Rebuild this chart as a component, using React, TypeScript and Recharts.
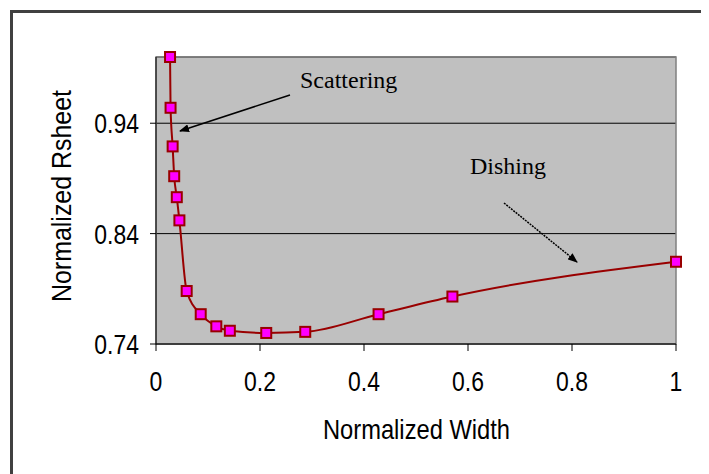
import React from 'react';
import { LineChart, Line, XAxis, YAxis, CartesianGrid, ReferenceArea } from 'recharts';

const widths = [0.027, 0.028, 0.032, 0.035, 0.04, 0.045, 0.059, 0.086, 0.116, 0.142, 0.212, 0.287, 0.428, 0.57, 1.0];
const rsheet = [1.0, 0.954, 0.919, 0.892, 0.873, 0.852, 0.788, 0.767, 0.756, 0.752, 0.75, 0.751, 0.767, 0.783, 0.8145];
const xTicks = [0, 0.2, 0.4, 0.6, 0.8, 1];
const yTicks = [0.74, 0.84, 0.94];

const data = widths.map((w, i) => ({ w, r: rsheet[i] }));

const SANS = '"Liberation Sans", Arial, sans-serif';
const SERIF = '"Liberation Serif", "Times New Roman", serif';

const SquareDot = (props: any) => {
  const { cx, cy, index } = props;
  if (cx == null || cy == null) return null;
  return <rect key={index} x={cx - 5} y={cy - 5} width={10} height={10} fill="#FF00FF" stroke="#990000" strokeWidth={2} />;
};

// Excel-ish narrow labels: squeeze Arial horizontally
const XTick = (props: any) => {
  const { x, y, payload } = props;
  return (
    <text transform={`translate(${x}, ${y}) scale(0.82, 1)`} textAnchor="middle" dy="0.71em" fontSize={28} fontFamily={SANS} fill="#000">
      {String(payload.value)}
    </text>
  );
};

const YTick = (props: any) => {
  const { x, y, payload } = props;
  return (
    <text transform={`translate(${x}, ${y}) scale(0.82, 1)`} textAnchor="end" dy="0.36em" fontSize={28} fontFamily={SANS} fill="#000">
      {Number(payload.value).toFixed(2)}
    </text>
  );
};

const XTitle = (props: any) => {
  const vb = props.viewBox;
  return (
    <text x={vb.x + vb.width / 2 - 93} y={431} textLength={187} lengthAdjust="spacingAndGlyphs" fontSize={28} fontFamily={SANS} fill="#000">
      Normalized Width
    </text>
  );
};

const YTitle = () => {
  const cx = 63;
  const cy = 188;
  return (
    <text x={cx - 106} y={cy} transform={`rotate(-90, ${cx}, ${cy})`} dx={0} textLength={212} lengthAdjust="spacingAndGlyphs" fontSize={28} fontFamily={SANS} fill="#000">
      Normalized Rsheet
    </text>
  );
};

export default function App() {
  return (
    <div style={{ position: 'relative', width: 701, height: 466, overflow: 'hidden', background: '#fff' }}>
      <div style={{ position: 'absolute', left: 2, top: 2, width: 900, height: 700, border: '3px solid #404040' }} />
      <div style={{ position: 'absolute', left: 0, top: 0 }}>
        <LineChart width={701} height={466} data={data} margin={{ top: 49, right: 33, bottom: 30, left: 68 }}>
          <CartesianGrid horizontal vertical={false} stroke="#000" fill="#C0C0C0" />
          <ReferenceArea x1={0} x2={1} y1={0.74} y2={1} fill="none" stroke="#808080" strokeWidth={1.5} />
          <XAxis
            type="number"
            dataKey="w"
            domain={[0, 1]}
            ticks={xTicks}
            stroke="#000"
            tickSize={7}
            tickMargin={20}
            height={100}
            tick={<XTick />}
            label={<XTitle />}
          />
          <YAxis
            type="number"
            domain={[0.74, 1.0]}
            ticks={yTicks}
            stroke="#000"
            tickSize={6}
            tickMargin={11}
            width={80}
            tick={<YTick />}
            label={<YTitle />}
          />
          <Line
            type="monotone"
            dataKey="r"
            stroke="#990000"
            strokeWidth={2}
            dot={<SquareDot />}
            activeDot={false}
            isAnimationActive={false}
          />
        </LineChart>
      </div>
      <svg width={701} height={466} style={{ position: 'absolute', left: 0, top: 0, pointerEvents: 'none' }}>
        <defs>
          <marker id="ah" markerWidth="10" markerHeight="8" refX="9" refY="4" orient="auto" markerUnits="userSpaceOnUse">
            <path d="M0,0 L10,4 L0,8 Z" fill="#000" />
          </marker>
        </defs>
        <text x={292} y={80} fontSize={24} fontFamily={SERIF} fill="#000">Scattering</text>
        <line x1={282} y1={87} x2={172} y2={123} stroke="#000" strokeWidth={1.5} markerEnd="url(#ah)" />
        <text x={462} y={166} fontSize={24} fontFamily={SERIF} fill="#000">Dishing</text>
        <line x1={496} y1={195} x2={569} y2={254} stroke="#000" strokeWidth={1.5} strokeDasharray="2 1" markerEnd="url(#ah)" />
      </svg>
    </div>
  );
}
